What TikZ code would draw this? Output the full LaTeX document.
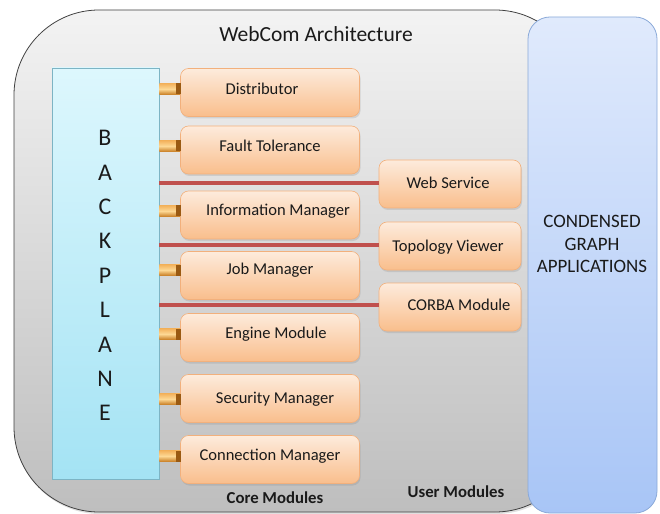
\documentclass[tikz,border=0pt]{standalone}
\usepackage{fontspec}
\setmainfont{Carlito}
\usetikzlibrary{shadows,calc}
\definecolor{outtop}{HTML}{F3F3F3}
\definecolor{outbot}{HTML}{BEBEBE}
\definecolor{outline}{HTML}{404040}
\definecolor{bluetop}{HTML}{E0EAFC}
\definecolor{bluebot}{HTML}{A8C5F6}
\definecolor{blueline}{HTML}{8AA9D8}
\definecolor{bptop}{HTML}{DDF7FD}
\definecolor{bpbot}{HTML}{A4E3F4}
\definecolor{bpline}{HTML}{7DB4C4}
\definecolor{modtop}{HTML}{FDEBDC}
\definecolor{modbot}{HTML}{F9BE8C}
\definecolor{modline}{HTML}{F2B07C}
\definecolor{stubtop}{HTML}{F3B25C}
\definecolor{stubmid}{HTML}{FDD894}
\definecolor{stubbot}{HTML}{C97F25}
\definecolor{stubend}{HTML}{9A5A12}
\definecolor{redln}{HTML}{C0504D}
\definecolor{txt}{HTML}{1A1A1A}
\begin{document}
\begin{tikzpicture}[x=1bp,y=-1bp,
  modbox/.style={draw=modline, line width=0.6bp, rounded corners=8bp,
    top color=modtop, bottom color=modbot, minimum height=48bp,
    drop shadow={opacity=0.22, shadow xshift=1bp, shadow yshift=-2bp}},
  coremod/.style={modbox, minimum width=179bp},
  usermod/.style={modbox, minimum width=142bp},
  modtext/.style={text=txt, font=\fontsize{16.6}{19}\selectfont, inner sep=0pt},
  bpletter/.style={text=txt, font=\fontsize{24}{28}\selectfont, inner sep=0pt},
  boldlabel/.style={text=txt, font=\bfseries\fontsize{16.8}{19}\selectfont, inner sep=0pt},
  redline/.style={draw=redln, line width=3.5bp},
  stubbar/.style={top color=stubtop, bottom color=stubbot, middle color=stubmid}
]
\useasboundingbox (0,0) rectangle (660,514);
% outer container
\path[draw=outline, line width=0.8bp, top color=outtop, bottom color=outbot,
  rounded corners=85bp, drop shadow={opacity=0.25, shadow xshift=1bp, shadow yshift=-2bp}]
  (14,10) rectangle (580,512);
% condensed graph applications
\node[draw=blueline, line width=0.8bp, rounded corners=22bp, top color=bluetop, bottom color=bluebot,
  minimum width=129bp, minimum height=496bp] (cga) at (592.5,265) {};
\node[text=txt, align=center, font=\fontsize{19}{23}\selectfont, inner sep=0pt] (cgat) at (592,244)
  {CONDENSED\\GRAPH\\APPLICATIONS};
% title
\node[text=txt, font=\fontsize{21.6}{25}\selectfont, inner sep=0pt] (title) at (316,34) {WebCom Architecture};
% backplane
\node[draw=bpline, line width=0.6bp, top color=bptop, bottom color=bpbot,
  minimum width=107bp, minimum height=411bp] (bp) at (105.5,273.5) {};
\foreach \l [count=\i from 0] in {B,A,C,K,P,L,A,N,E}{
  \node[bpletter] (bpl\i) at (105,138+34.4*\i) {\l};
}
% core modules
\node[coremod] (d)  at (270,92.5) {};
\node[coremod] (ft) at (270,150) {};
\node[coremod] (im) at (270,215) {};
\node[coremod] (jm) at (270,275.5) {};
\node[coremod] (em) at (270,337.5) {};
\node[coremod] (sm) at (270,398.5) {};
\node[coremod] (cm) at (270,459.5) {};
\node[modtext] (dt)  at (262,89) {Distributor};
\node[modtext] (ftt) at (270,146) {Fault Tolerance};
\node[modtext] (imt) at (278,211) {Information Manager};
\node[modtext] (jmt) at (270,270) {Job Manager};
\node[modtext] (emt) at (276,334) {Engine Module};
\node[modtext] (smt) at (275,399) {Security Manager};
\node[modtext] (cmt) at (270,456) {Connection Manager};
% stubs
\foreach \m/\t in {d/dt,ft/ftt,im/imt,jm/jmt,em/emt,sm/smt,cm/cmt}{
  \shade[stubbar] ($(bp.east|-\t.center)+(0,-5.5)$) rectangle ($(\m.west|-\t.center)+(0,5.5)$);
  \fill[stubend] ($(\m.west|-\t.center)+(-4,-5.5)$) rectangle ($(\m.west|-\t.center)+(0.5,5.5)$);
}
% user modules
\node[usermod] (ws) at (450,184) {};
\node[usermod] (tv) at (450,246) {};
\node[usermod] (cb) at (450,307) {};
\node[modtext] (wst) at (448,183) {Web Service};
\node[modtext] (tvt) at (448,247) {Topology Viewer};
\node[modtext] (cbt) at (459,305) {CORBA Module};
\coordinate (wsy) at (ws.west|-0,183);
\coordinate (tvy) at (tv.west|-0,245);
\coordinate (cby) at (cb.west|-0,305);
\draw[redline] (bp.east|-wsy) -- (wsy);
\draw[redline] (bp.east|-tvy) -- (tvy);
\draw[redline] (bp.east|-cby) -- (cby);
% labels
\node[boldlabel] (corel) at (275,498) {Core Modules};
\node[boldlabel] (userl) at (456,492) {User Modules};
\end{tikzpicture}
\end{document}
